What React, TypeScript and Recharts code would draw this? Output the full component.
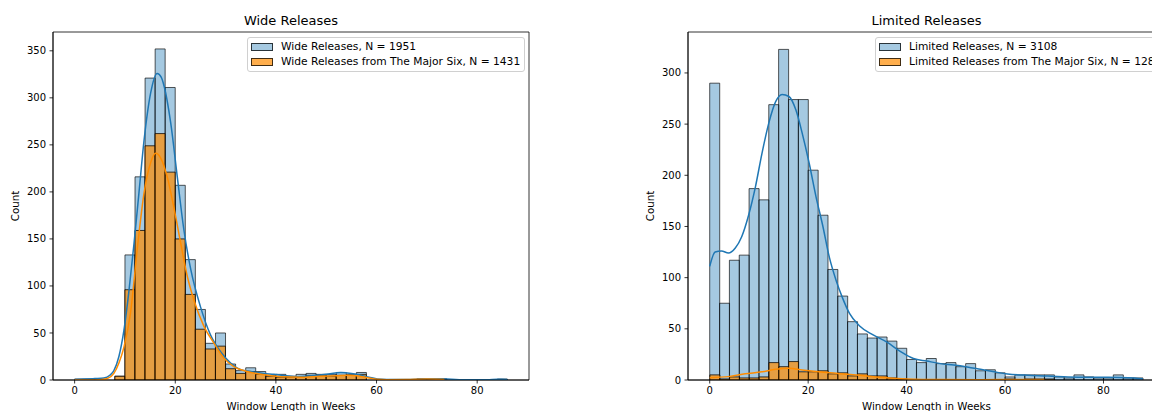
import {
  Bar,
  ComposedChart,
  Legend,
  Line,
  ReferenceArea,
  XAxis,
  YAxis,
} from "recharts";

// histogram bins (left edge, weeks), 2-week wide
const wideBins = [
  0, 2, 4, 6, 8, 10, 12, 14, 16, 18, 20, 22, 24, 26, 28, 30, 32, 34, 36, 38, 40, 42,
  44, 46, 48, 50, 52, 54, 56, 58, 60, 62, 64, 66, 68, 70, 72, 74, 76, 78, 80, 82, 84,
];
const wideAll = [
  1, 1, 1, 0, 4, 133, 216, 321, 352, 311, 207, 128, 75, 39, 50, 17, 10, 13, 9, 5, 6, 4,
  6, 7, 6, 6, 8, 6, 8, 0, 0, 0, 0, 0, 1, 1, 1, 0, 0, 0, 0, 0, 1,
];
const wideMajor = [
  0, 0, 0, 0, 4, 96, 159, 249, 262, 221, 150, 91, 54, 33, 36, 12, 7, 9, 6, 4, 3, 3,
  3, 5, 5, 4, 5, 5, 6, 0, 0, 0, 0, 0, 1, 1, 1, 0, 0, 0, 0, 0, 0,
];

const limitedBins = [
  0, 2, 4, 6, 8, 10, 12, 14, 16, 18, 20, 22, 24, 26, 28, 30, 32, 34, 36, 38, 40, 42,
  44, 46, 48, 50, 52, 54, 56, 58, 60, 62, 64, 66, 68, 70, 72, 74, 76, 78, 80, 82, 84, 86,
];
const limitedAll = [
  290, 75, 117, 122, 187, 176, 269, 323, 274, 274, 205, 161, 108, 82, 57, 45, 41, 42, 38, 31,
  20, 17, 21, 16, 17, 13, 16, 9, 10, 7, 3, 5, 5, 5, 5, 3, 2, 5, 3, 2, 2, 5, 2, 2,
];
const limitedMajor = [
  5, 1, 3, 2, 2, 3, 17, 13, 18, 8, 8, 9, 6, 7, 4, 6, 4, 4, 2, 1,
  0, 0, 0, 0, 0, 0, 0, 0, 0, 0, 1, 0, 1, 1, 1, 0, 0, 0, 0, 0, 0, 0, 0, 0,
];

// kde curves, [weeks, count]
const wideKdeAll: [number, number][] = [
  [0, 0.5], [2, 1], [4, 1.5], [5.8, 2], [7, 5], [7.8, 10], [8.8, 25], [9.8, 53],
  [10.8, 95], [11.8, 145], [12.8, 200], [13.8, 255], [15.1, 305], [16.4, 326],
  [17.2, 322], [17.8, 312], [19.1, 273], [20.4, 216], [21.7, 160], [23.1, 117],
  [25, 78], [27, 48], [29, 30], [31, 18], [33, 11], [35, 9], [37.5, 7], [39.6, 6],
  [42, 4.5], [44.3, 3.5], [47, 4.5], [50, 6], [52.9, 8], [55, 7], [56.9, 5],
  [58.5, 3], [60.2, 1], [62, 0.5], [66, 0.6], [70, 1.2], [74, 1], [78, 0.3],
  [82, 0.3], [84, 0.7], [86, 0.6],
];
const wideKdeMajor: [number, number][] = [
  [0, 0], [3, 0], [5, 0.3], [6.5, 1.5], [7.8, 7], [8.8, 18], [9.8, 35], [11.1, 71],
  [12.5, 142], [13.8, 199], [15.1, 231], [16.1, 241], [17.1, 236], [18.4, 216],
  [19.7, 184], [21.1, 145], [22.4, 110], [23.7, 85], [25.7, 57], [27.7, 39],
  [29.7, 23], [31.7, 14], [34.3, 9], [37, 6], [41, 3.5], [45, 3], [48.9, 4], [52, 4.5],
  [54.2, 5], [56, 4.5], [58.2, 2.5], [60, 0.8], [62, 0.3], [66, 0.5], [70, 1],
  [73.5, 0.5],
];
const limitedKdeAll: [number, number][] = [
  [0, 111], [1.1, 125], [2.4, 126], [3.8, 124], [5.2, 129], [6.5, 140], [7.9, 161],
  [9.3, 189], [10.6, 221], [12, 251], [13.4, 272], [14.7, 279], [16.1, 277],
  [17.5, 264], [18.8, 241], [20.2, 212], [21.6, 179], [23, 150], [24.3, 120],
  [25.7, 97], [27, 80], [28.4, 65], [30.4, 53], [33.2, 44], [36, 37], [38.7, 28],
  [41.4, 21], [44.1, 18.5], [46.9, 16], [49.6, 14.6], [52.3, 12.7], [55, 10.4],
  [57.8, 8], [60.5, 5.9], [64.6, 4.6], [68.7, 4], [72.8, 3], [76.9, 2.6], [81, 2.6],
  [85.1, 2.3], [88, 1.3],
];
const limitedKdeMajor: [number, number][] = [
  [0, 2.3], [3.8, 3.3], [7.2, 6], [10.6, 8], [13.4, 10.4], [16.1, 11.4], [18.8, 9.8],
  [22.2, 8], [25.7, 6.5], [28, 5.5], [30.4, 4.6], [34.5, 2.6], [40, 1], [46.9, 0.4],
  [55, 0.3], [62, 0.5], [68, 0.4],
];

const xTicks = [0, 20, 40, 60, 80];
const wideYTicks = [0, 50, 100, 150, 200, 250, 300, 350];
const limitedYTicks = [0, 50, 100, 150, 200, 250, 300];

const BIN = 2;
const BLUE = "#1f77b4";
const ORANGE = "#ff8c00";
const BLUE_FILL = "rgba(31,119,180,0.4)";
const ORANGE_FILL = "rgba(255,140,0,0.7)";

function LegendBox({ labels }: { labels: string[] }) {
  const fills = [BLUE_FILL, ORANGE_FILL];
  return (
    <div
      style={{
        background: "rgba(255,255,255,0.8)",
        border: "1px solid #d0d0d0",
        borderRadius: 3,
        padding: "1px 4px 2px 3px",
        fontSize: 10.7,
        lineHeight: "15px",
        whiteSpace: "nowrap",
        color: "#000",
      }}
    >
      {labels.map((l, i) => (
        <div key={l} style={{ display: "flex", alignItems: "center", height: 15 }}>
          <span
            style={{
              display: "inline-block",
              width: 20,
              height: 6,
              background: fills[i],
              border: "1px solid rgba(0,0,0,0.75)",
              marginRight: 8,
            }}
          />
          {l}
        </div>
      ))}
    </div>
  );
}

type PanelProps = {
  title: string;
  legend: string[];
  bins: number[];
  all: number[];
  major: number[];
  kdeAll: [number, number][];
  kdeMajor: [number, number][];
  xDomain: [number, number];
  yMax: number;
  yTicks: number[];
  left: number;
  width: number;
  yAxisWidth: number;
  marginRight: number;
  legendLeft: number;
  countOffset: number;
};

function HistPanel(p: PanelProps) {
  const rows = p.bins.map((b, i) => ({ x: b + BIN / 2, all: p.all[i], major: p.major[i] }));
  const tick = { fill: "#000", fontSize: 10 };
  const plotLeft = p.left + p.yAxisWidth;
  const plotWidth = p.width - p.yAxisWidth - p.marginRight;
  return (
    <>
      <div
        style={{
          position: "absolute",
          left: plotLeft,
          width: plotWidth,
          top: 13,
          fontSize: 13,
          lineHeight: "15px",
          textAlign: "center",
          color: "#000",
        }}
      >
        {p.title}
      </div>
      <div style={{ position: "absolute", left: p.left, top: 0 }}>
        <ComposedChart
          width={p.width}
          height={411}
          data={rows}
          margin={{ top: 32, right: p.marginRight, bottom: 0, left: 0 }}
          barCategoryGap={0}
          barGap="-100%"
        >
          <XAxis
            type="number"
            dataKey="x"
            domain={p.xDomain}
            allowDataOverflow
            ticks={xTicks}
            interval={0}
            height={31}
            tickSize={3.5}
            tickMargin={3.5}
            tick={tick}
            tickLine={{ stroke: "#000", strokeWidth: 0.8 }}
            axisLine={{ stroke: "#000", strokeWidth: 0.8 }}
            label={{ value: "Window Length in Weeks", position: "insideBottom", offset: 1, fill: "#000", fontSize: 10.3 }}
          />
          <XAxis xAxisId="kde" type="number" dataKey="x" domain={p.xDomain} allowDataOverflow hide />
          <YAxis
            domain={[0, p.yMax]}
            allowDataOverflow
            ticks={p.yTicks}
            interval={0}
            width={p.yAxisWidth}
            tickSize={3.5}
            tickMargin={3.5}
            tick={tick}
            tickLine={{ stroke: "#000", strokeWidth: 0.8 }}
            axisLine={{ stroke: "#000", strokeWidth: 0.8 }}
            label={{
              value: "Count",
              angle: -90,
              position: "insideLeft",
              offset: p.countOffset,
              fill: "#000",
              fontSize: 10.3,
              style: { textAnchor: "middle" },
            }}
          />
          <Bar
            dataKey="all"
            fill={BLUE}
            fillOpacity={0.4}
            stroke="#000"
            strokeOpacity={0.65}
            strokeWidth={1}
            isAnimationActive={false}
          />
          <Bar
            dataKey="major"
            fill={ORANGE}
            fillOpacity={0.7}
            stroke="#000"
            strokeOpacity={0.75}
            strokeWidth={1}
            isAnimationActive={false}
          />
          <Line
            xAxisId="kde"
            data={p.kdeAll.map(([x, y]) => ({ x, y }))}
            dataKey="y"
            type="monotone"
            stroke={BLUE}
            strokeWidth={1.5}
            dot={false}
            activeDot={false}
            isAnimationActive={false}
          />
          <Line
            xAxisId="kde"
            data={p.kdeMajor.map(([x, y]) => ({ x, y }))}
            dataKey="y"
            type="monotone"
            stroke={ORANGE}
            strokeWidth={1.5}
            dot={false}
            activeDot={false}
            isAnimationActive={false}
          />
          <ReferenceArea
            x1={p.xDomain[0]}
            x2={p.xDomain[1]}
            y1={0}
            y2={p.yMax}
            fill="none"
            stroke="#000"
            strokeWidth={0.8}
            ifOverflow="visible"
          />
          <Legend
            layout="vertical"
            align="center"
            verticalAlign="middle"
            wrapperStyle={{ left: p.legendLeft, top: 37 }}
            content={() => <LegendBox labels={p.legend} />}
          />
        </ComposedChart>
      </div>
    </>
  );
}

export default function App() {
  return (
    <div
      style={{
        position: "absolute",
        left: 0,
        top: 0,
        width: 1152,
        height: 411,
        overflow: "hidden",
        background: "#fff",
        fontFamily: "'DejaVu Sans', sans-serif",
      }}
    >
      <HistPanel
        title="Wide Releases"
        legend={["Wide Releases, N = 1951", "Wide Releases from The Major Six, N = 1431"]}
        bins={wideBins}
        all={wideAll}
        major={wideMajor}
        kdeAll={wideKdeAll}
        kdeMajor={wideKdeMajor}
        xDomain={[-4.3, 90.3]}
        yMax={370}
        yTicks={wideYTicks}
        left={0}
        width={560}
        yAxisWidth={53}
        marginRight={31}
        legendLeft={247}
        countOffset={15}
      />
      <HistPanel
        title="Limited Releases"
        legend={["Limited Releases, N = 3108", "Limited Releases from The Major Six, N = 128"]}
        bins={limitedBins}
        all={limitedAll}
        major={limitedMajor}
        kdeAll={limitedKdeAll}
        kdeMajor={limitedKdeMajor}
        xDomain={[-4.41, 92.5]}
        yMax={340}
        yTicks={limitedYTicks}
        left={630}
        width={550}
        yAxisWidth={58}
        marginRight={15}
        legendLeft={245}
        countOffset={20}
      />
    </div>
  );
}
